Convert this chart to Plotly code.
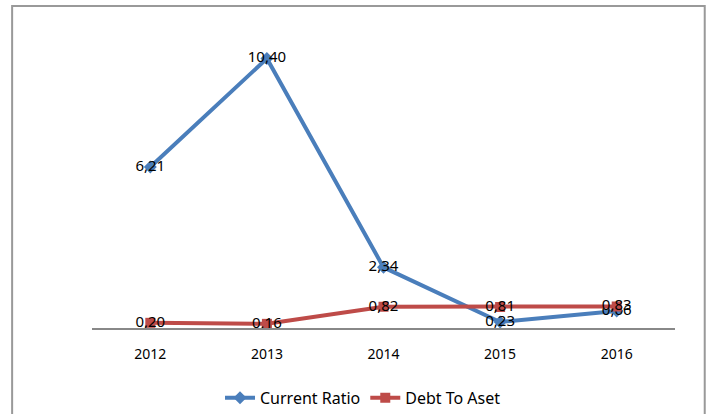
import plotly.graph_objects as go

years = ["2012", "2013", "2014", "2015", "2016"]
current_ratio = [6.21, 10.40, 2.34, 0.23, 0.66]
debt_to_aset = [0.20, 0.16, 0.82, 0.81, 0.83]

def fmt(v):
    return f"{v:.2f}".replace(".", ",")

FONT = "Noto Sans"
BLUE = "#4A7EBB"
RED = "#BE4B48"

fig = go.Figure()
fig.add_trace(go.Scatter(
    x=years, y=current_ratio, name="Current Ratio", mode="lines+markers+text",
    line=dict(color=BLUE, width=4),
    marker=dict(symbol="diamond", size=10, color=BLUE),
    text=[fmt(v) for v in current_ratio], textposition="middle center",
    textfont=dict(family=FONT, size=15, color="#000000"),
    cliponaxis=False,
))
fig.add_trace(go.Scatter(
    x=years, y=debt_to_aset, name="Debt To Aset", mode="lines+markers+text",
    line=dict(color=RED, width=4),
    marker=dict(symbol="square", size=10, color=RED),
    text=[fmt(v) for v in debt_to_aset], textposition="middle center",
    textfont=dict(family=FONT, size=15, color="#000000"),
    cliponaxis=False,
))

fig.update_layout(
    width=709, height=414,
    margin=dict(l=92, r=34, t=17, b=86, autoexpand=False),
    paper_bgcolor="white", plot_bgcolor="white",
    font=dict(family=FONT, size=14, color="#000000"),
    showlegend=True,
    legend=dict(orientation="h", xref="container", yref="container",
                x=0.512, xanchor="center", y=0.039, yanchor="middle",
                font=dict(family=FONT, size=16, color="#000000")),
    xaxis=dict(type="category", range=[-0.5, 4.5], showline=True, linecolor="#888888",
               linewidth=1.5, showgrid=False, ticks="", zeroline=False,
               ticklabelstandoff=12, automargin=False,
               tickfont=dict(family=FONT, size=14, color="#000000")),
    yaxis=dict(range=[0, 12], visible=False, showgrid=False, zeroline=False),
    shapes=[dict(type="rect", xref="paper", yref="paper",
                 x0=-0.137, x1=1.051, y0=-0.3, y1=1.035,
                 line=dict(color="#999999", width=2), fillcolor="rgba(0,0,0,0)", layer="below")],
)

fig.write_html("out.html", config={"displayModeBar": False},
               post_script="document.body.style.margin='0';document.body.style.overflow='hidden';")
